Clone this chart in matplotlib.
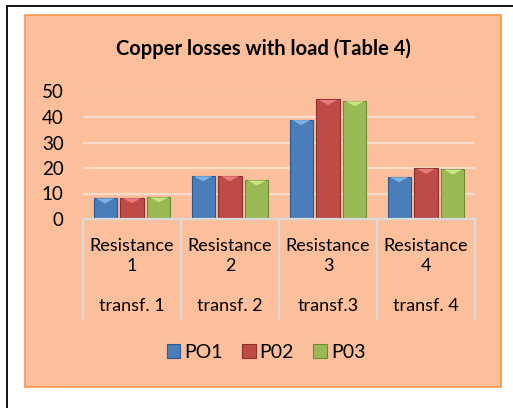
import numpy as np
import matplotlib.pyplot as plt
from matplotlib.patches import Rectangle, Polygon
import matplotlib.transforms as mtransforms

plt.rcParams['font.family'] = ['Lato', 'DejaVu Sans']

# Data
cat_top = ["Resistance\n1", "Resistance\n2", "Resistance\n3", "Resistance\n4"]
cat_bottom = ["transf. 1", "transf. 2", "transf.3", "transf. 4"]
series = ["PO1", "P02", "P03"]
po1 = [8.3, 17.0, 39.0, 16.6]
p02 = [8.4, 17.0, 46.9, 19.9]
p03 = [8.7, 15.3, 46.4, 19.6]
colors = ['#4a7ebb', '#be4b48', '#98b954']
edges = ['#2c5a8f', '#8c2f2d', '#6e8c36']
caps = ['#8fc0f0', '#f08a8a', '#d4f08a']

W, H = 513, 408
fig = plt.figure(figsize=(W / 100, H / 100), dpi=100)
fig.patch.set_facecolor('white')

def fx(px):
    return px / W

def fy(py):
    return 1 - py / H

# outer black frame (runs off the right and bottom of the image)
fig.add_artist(Rectangle((fx(7), fy(420)), fx(520) - fx(7), fy(6) - fy(420),
                         transform=fig.transFigure, fill=False,
                         edgecolor='black', lw=1.3, zorder=-2))
# orange chart area
fig.add_artist(Rectangle((fx(25), fy(387)), fx(501) - fx(25), fy(15) - fy(387),
                         transform=fig.transFigure, facecolor='#fcbf9c',
                         edgecolor='#f79646', lw=1.2, zorder=-1))

fig.text(fx(263), fy(49), "Copper losses with load (Table 4)", ha='center',
         va='center', fontsize=14.5, fontweight='bold', color='black')

ax = fig.add_axes([fx(83), fy(219), fx(475) - fx(83), fy(91.5) - fy(219)])
ax.set_facecolor('none')
for s in ax.spines.values():
    s.set_visible(False)

x = np.arange(len(cat_top))
width = 0.235
offset = 0.275
for i, vals in enumerate([po1, p02, p03]):
    bars = ax.bar(x + (i - 1) * offset, vals, width, color=colors[i],
                  edgecolor=edges[i], lw=0.8, label=series[i], zorder=3)
    # small bevelled cap on top of each bar
    for b in bars:
        x0, w, h = b.get_x(), b.get_width(), b.get_height()
        ax.add_patch(Polygon([(x0 + 0.1 * w, h - 0.2), (x0 + 0.9 * w, h - 0.2),
                              (x0 + 0.5 * w, h - 2.2)], closed=True,
                             facecolor=caps[i], edgecolor='none', alpha=0.8,
                             zorder=4))

ax.set_xlim(-0.5, len(cat_top) - 0.5)
ax.set_ylim(0, 50)
ax.set_yticks([0, 10, 20, 30, 40, 50])
ax.yaxis.grid(True, color='#f5dccb', lw=1.6, zorder=0)
ax.tick_params(axis='y', length=0, labelsize=13.5, pad=14)
ax.set_xticks([])

# category box under the bars
trans = mtransforms.blended_transform_factory(ax.transData, ax.transAxes)
depth = -(318 - 219) / 127.5
ax.plot([-0.5, len(cat_top) - 0.5], [0, 0], transform=trans, color='#d9d9d9',
        lw=1.6, clip_on=False, zorder=5)
for b in np.arange(len(cat_top) + 1) - 0.5:
    ax.plot([b, b], [0, depth], transform=trans, color='#d9d9d9', lw=1.6,
            clip_on=False, zorder=5)
for i in range(len(cat_top)):
    ax.text(i, -(256 - 219) / 127.5, cat_top[i], transform=trans, ha='center',
            va='center', fontsize=13, linespacing=1.35)
    ax.text(i, -(306 - 219) / 127.5, cat_bottom[i], transform=trans,
            ha='center', va='center', fontsize=13)

leg = fig.legend(loc='center', bbox_to_anchor=(fx(266), fy(352)), ncol=3,
                 frameon=False, fontsize=14, handlelength=0.7,
                 handleheight=0.7, handletextpad=0.2, columnspacing=1.0)

fig.savefig('out.png', dpi=100)
